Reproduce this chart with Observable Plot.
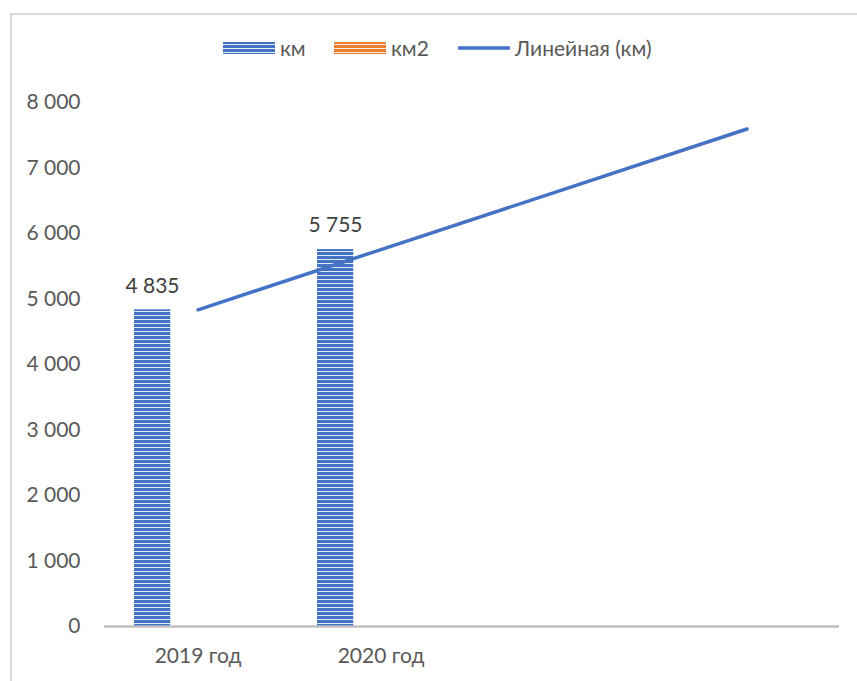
<!DOCTYPE html>
<html>
<head>
<meta charset="utf-8">
<script src="https://cdn.jsdelivr.net/npm/d3@7"></script>
<script src="https://cdn.jsdelivr.net/npm/@observablehq/plot@0.6"></script>
<style>
  html, body { margin: 0; padding: 0; background: #fff; }
  #chart { position: relative; width: 857px; height: 681px; overflow: hidden; font-family: Lato, "Open Sans", sans-serif; }
  #frame { position: absolute; left: 10px; top: 13px; width: 900px; height: 720px; border-top: 2px solid #d9d9d9; border-left: 2px solid #d9d9d9; box-sizing: border-box; }
  #legend { position: relative; height: 80px; }
  .item { position: absolute; top: 7px; display: flex; align-items: center; height: 80px; font-size: 21px; color: #595959; white-space: nowrap; }
  .item svg { display: block; margin-right: 5px; }
  #plot { position: relative; }
  #defs { position: absolute; width: 0; height: 0; }
</style>
</head>
<body>
<div id="chart">
  <div id="frame"></div>
  <svg id="defs" aria-hidden="true">
    <defs>
      <pattern id="km-stripes" patternUnits="userSpaceOnUse" width="4" height="4">
        <rect width="4" height="4" fill="#4472C4"/>
        <rect y="3" width="4" height="1" fill="#ffffff" opacity="0.85"/>
      </pattern>
      <pattern id="km2-stripes" patternUnits="userSpaceOnUse" width="4" height="4">
        <rect width="4" height="4" fill="#ED7D31"/>
        <rect y="3" width="4" height="1" fill="#ffffff" opacity="0.85"/>
      </pattern>
    </defs>
  </svg>
  <div id="legend"></div>
  <div id="plot"></div>
</div>
<script>
// Categories along the x axis (the last two are the empty forecast periods)
const categoryLabels = ["2019 год", "2020 год", "", ""];
// Series values
const km = [4835, 5755];
const km2 = [null, null];
// Trendline forecast: periods forward
const forecastPeriods = 2;
// Y axis ticks
const yTicks = [0, 1000, 2000, 3000, 4000, 5000, 6000, 7000, 8000];

const fmt = d => d3.format(",")(d).replace(/,/g, " ");

const kmRows = km.map((v, i) => ({i, v})).filter(d => d.v != null);
const km2Rows = km2.map((v, i) => ({i, v})).filter(d => d.v != null);

// Least-squares linear trend on km (periods numbered from 1)
const t = kmRows.map(d => d.i + 1);
const tMean = d3.mean(t), vMean = d3.mean(kmRows, d => d.v);
const slope = d3.sum(kmRows, (d, k) => (t[k] - tMean) * (d.v - vMean)) / d3.sum(t, x => (x - tMean) ** 2);
const intercept = vMean - slope * tMean;
const trendRows = d3.range(km.length + forecastPeriods).map(i => ({i, v: intercept + slope * (i + 1)}));

// Legend
const legend = document.getElementById("legend");
const legendItems = [
  {left: 223, kind: "swatch", fill: "url(#km-stripes)", label: "км"},
  {left: 334, kind: "swatch", fill: "url(#km2-stripes)", label: "км2"},
  {left: 458, kind: "line", stroke: "#4472C4", label: "Линейная (км)"}
];
for (const it of legendItems) {
  const div = document.createElement("div");
  div.className = "item";
  div.style.left = it.left + "px";
  const svg = d3.create("svg").attr("width", 52).attr("height", 14).style("margin-top", "1px");
  if (it.kind === "swatch") {
    svg.append("rect").attr("x", 0).attr("y", 1).attr("width", 52).attr("height", 12).attr("fill", it.fill);
  } else {
    svg.append("line").attr("x1", 1).attr("x2", 51).attr("y1", 7).attr("y2", 7)
      .attr("stroke", it.stroke).attr("stroke-width", 3.5).attr("stroke-linecap", "round");
  }
  div.appendChild(svg.node());
  const span = document.createElement("span");
  span.textContent = it.label;
  div.appendChild(span);
  legend.appendChild(div);
}

const chart = Plot.plot({
  width: 857,
  height: 601,
  marginLeft: 104,
  marginRight: 18,
  marginTop: 22,
  marginBottom: 55,
  style: {fontFamily: "Lato, 'Open Sans', sans-serif", fontSize: "21px", color: "#595959", background: "transparent"},
  x: {
    type: "band",
    domain: d3.range(categoryLabels.length),
    paddingInner: 0,
    paddingOuter: 0,
    tickSize: 0,
    tickPadding: 22,
    tickFormat: i => categoryLabels[i],
    label: null
  },
  y: {
    domain: [0, 8000],
    ticks: yTicks,
    tickFormat: fmt,
    tickSize: 0,
    tickPadding: 24,
    label: null
  },
  marks: [
    Plot.barY(kmRows, {x: "i", y: "v", fill: "url(#km-stripes)", insetLeft: 28, insetRight: 118.75}),
    Plot.barY(km2Rows, {x: "i", y: "v", fill: "url(#km2-stripes)", insetLeft: 118.75, insetRight: 28}),
    Plot.ruleY([0], {stroke: "#bfbfbf", strokeWidth: 2.5}),
    Plot.lineY(trendRows, {x: "i", y: "v", stroke: "#4472C4", strokeWidth: 3.5, strokeLinecap: "round"}),
    Plot.text(kmRows, {x: "i", y: "v", text: d => fmt(d.v), dx: -45.5, dy: -24, fill: "#404040", fontSize: 21})
  ]
});
document.getElementById("plot").appendChild(chart);
</script>
</body>
</html>
